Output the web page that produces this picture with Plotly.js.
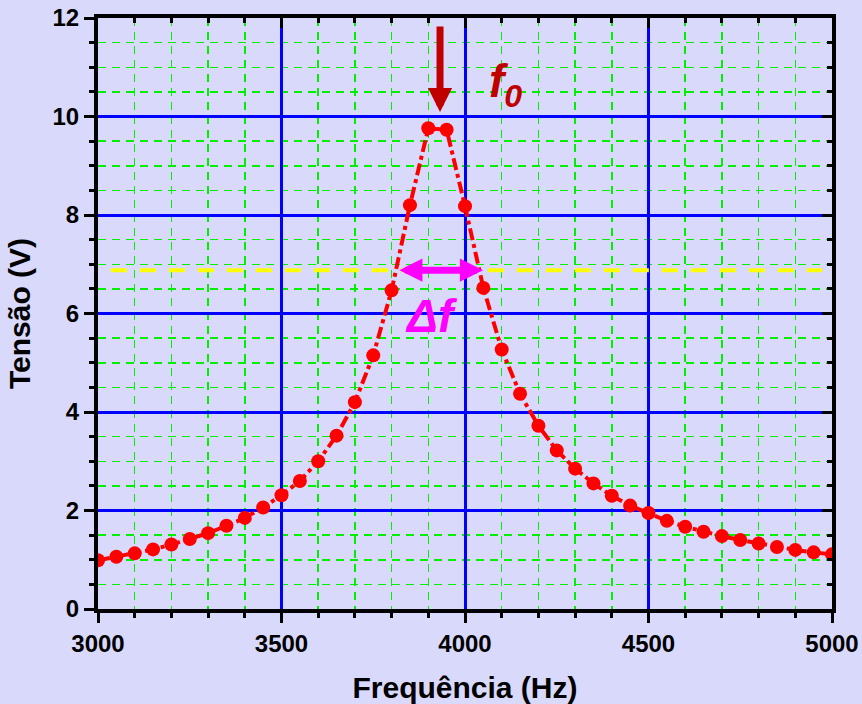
<!DOCTYPE html>
<html>
<head>
<meta charset="utf-8">
<script src="https://cdn.plot.ly/plotly-3.0.1.min.js"></script>
<style>
  html, body { margin: 0; padding: 0; background: #d9d9fc; }
  #chart { width: 862px; height: 704px; }
</style>
</head>
<body>
<div id="chart"></div>
<script>
// Frequency (Hz)
const freq = [3000, 3050, 3100, 3150, 3200, 3250, 3300, 3350, 3400, 3450,
              3500, 3550, 3600, 3650, 3700, 3750, 3800, 3850, 3900, 3950,
              4000, 4050, 4100, 4150, 4200, 4250, 4300, 4350, 4400, 4450,
              4500, 4550, 4600, 4650, 4700, 4750, 4800, 4850, 4900, 4950, 5000];
// Voltage (V)
const voltage = [0.99, 1.06, 1.13, 1.21, 1.31, 1.42, 1.54, 1.69, 1.85, 2.06,
                 2.31, 2.60, 3.00, 3.52, 4.20, 5.15, 6.47, 8.20, 9.76, 9.73,
                 8.18, 6.52, 5.27, 4.37, 3.72, 3.22, 2.85, 2.55, 2.30, 2.10,
                 1.95, 1.79, 1.67, 1.57, 1.48, 1.40, 1.33, 1.26, 1.20, 1.15, 1.11];

const xTicks = [3000, 3500, 4000, 4500, 5000];
const yTicks = [0, 2, 4, 6, 8, 10, 12];
const xRange = [3000, 5000];
const yRange = [0, 12];

// Annotation anchors (data units)
const f0Freq = 3932, f0ArrowTipV = 10.09;
const halfPowerV = 6.88;
const bwLow = 3817, bwHigh = 4049;
const halfLineStart = 3035, halfLineEnd = 4973;
const f0LabelPos = [4110, 10.66];
const dfLabelPos = [3910, 5.95];

const FONT = 'Liberation Sans, Arial, sans-serif';
const BG = '#d9d9fc';

const tickFont = {family: FONT, size: 24, color: '#000', weight: 'bold'};

const traces = [
  {
    x: freq, y: voltage, type: 'scatter', mode: 'lines+markers',
    line: {color: '#ff0000', width: 4, dash: 'dashdot'},
    marker: {color: '#ff0000', size: 14},
    showlegend: false, hoverinfo: 'x+y'
  },
  {
    x: freq, y: voltage, type: 'scatter', mode: 'markers',
    xaxis: 'x2', yaxis: 'y2',
    marker: {color: 'rgba(0,0,0,0)', size: 1},
    showlegend: false, hoverinfo: 'skip'
  }
];

const layout = {
  width: 862, height: 704,
  paper_bgcolor: BG, plot_bgcolor: BG,
  margin: {l: 98, r: 30, t: 18, b: 95},
  showlegend: false,
  xaxis: {
    range: xRange, tickvals: xTicks, ticktext: xTicks.map(String),
    ticks: 'outside', ticklen: 10, tickwidth: 3, tickcolor: '#000',
    showline: true, linewidth: 4, linecolor: '#000', mirror: false,
    showgrid: true, gridcolor: '#0000ff', gridwidth: 3, zeroline: false,
    tickfont: tickFont,
    minor: {dtick: 100, tick0: 3000, ticks: 'outside', ticklen: 5, tickwidth: 3, tickcolor: '#000',
            showgrid: true, gridcolor: '#00ee00', gridwidth: 1.5, griddash: '8px,6px'},
    title: {text: 'Frequência (Hz)', font: {family: FONT, size: 30, color: '#000', weight: 'bold'}, standoff: 22},
    automargin: false
  },
  yaxis: {
    range: yRange, tickvals: yTicks, ticktext: yTicks.map(String),
    ticks: 'outside', ticklen: 10, tickwidth: 3, tickcolor: '#000',
    showline: true, linewidth: 4, linecolor: '#000', mirror: false,
    showgrid: true, gridcolor: '#0000ff', gridwidth: 3, zeroline: false,
    tickfont: tickFont,
    minor: {dtick: 0.5, tick0: 0, ticks: 'outside', ticklen: 5, tickwidth: 3, tickcolor: '#000',
            showgrid: true, gridcolor: '#00ee00', gridwidth: 1.5, griddash: '8px,6px'},
    title: {text: 'Tensão (V)', font: {family: FONT, size: 30, color: '#000', weight: 'bold'}, standoff: 14},
    automargin: false
  },
  xaxis2: {
    overlaying: 'x', side: 'top', range: xRange, tickvals: xTicks,
    ticks: 'inside', ticklen: 10, tickwidth: 3, tickcolor: '#000',
    showticklabels: false, showline: true, linewidth: 4, linecolor: '#000',
    showgrid: false, zeroline: false,
    minor: {dtick: 100, tick0: 3000, ticks: 'inside', ticklen: 5, tickwidth: 3, tickcolor: '#000', showgrid: false}
  },
  yaxis2: {
    overlaying: 'y', side: 'right', range: yRange, tickvals: yTicks,
    ticks: 'inside', ticklen: 10, tickwidth: 3, tickcolor: '#000',
    showticklabels: false, showline: true, linewidth: 4, linecolor: '#000',
    showgrid: false, zeroline: false,
    minor: {dtick: 0.5, tick0: 0, ticks: 'inside', ticklen: 5, tickwidth: 3, tickcolor: '#000', showgrid: false}
  },
  shapes: [
    {type: 'line', xref: 'x', yref: 'y', x0: halfLineStart, x1: halfLineEnd, y0: halfPowerV, y1: halfPowerV,
     line: {color: '#ffff00', width: 4, dash: '16px,13px'}, layer: 'between'}
  ],
  annotations: [
    {x: f0Freq, y: f0ArrowTipV, xref: 'x', yref: 'y', ax: 0, ay: -87, text: '',
     showarrow: true, arrowhead: 2, arrowsize: 0.69, arrowwidth: 7, arrowcolor: '#c00000', standoff: 0},
    {x: bwHigh, y: halfPowerV, xref: 'x', yref: 'y', ax: bwLow, ay: halfPowerV, axref: 'x', ayref: 'y',
     text: '', showarrow: true, arrowside: 'end+start', arrowhead: 2, startarrowhead: 2,
     arrowsize: 0.66, startarrowsize: 0.66, arrowwidth: 7, arrowcolor: '#ff00ff', standoff: 0, startstandoff: 0},
    {x: f0LabelPos[0], y: f0LabelPos[1], xref: 'x', yref: 'y', showarrow: false,
     text: '<i>f</i><sub><i>0</i></sub>',
     font: {family: FONT, size: 46, color: '#c00000', weight: 'bold', style: 'italic'}},
    {x: dfLabelPos[0], y: dfLabelPos[1], xref: 'x', yref: 'y', showarrow: false,
     text: '<i>Δf</i>',
     font: {family: FONT, size: 46, color: '#ff00ff', weight: 'bold', style: 'italic'}}
  ]
};

Plotly.newPlot('chart', traces, layout, {displayModeBar: false, staticPlot: true});
</script>
</body>
</html>
